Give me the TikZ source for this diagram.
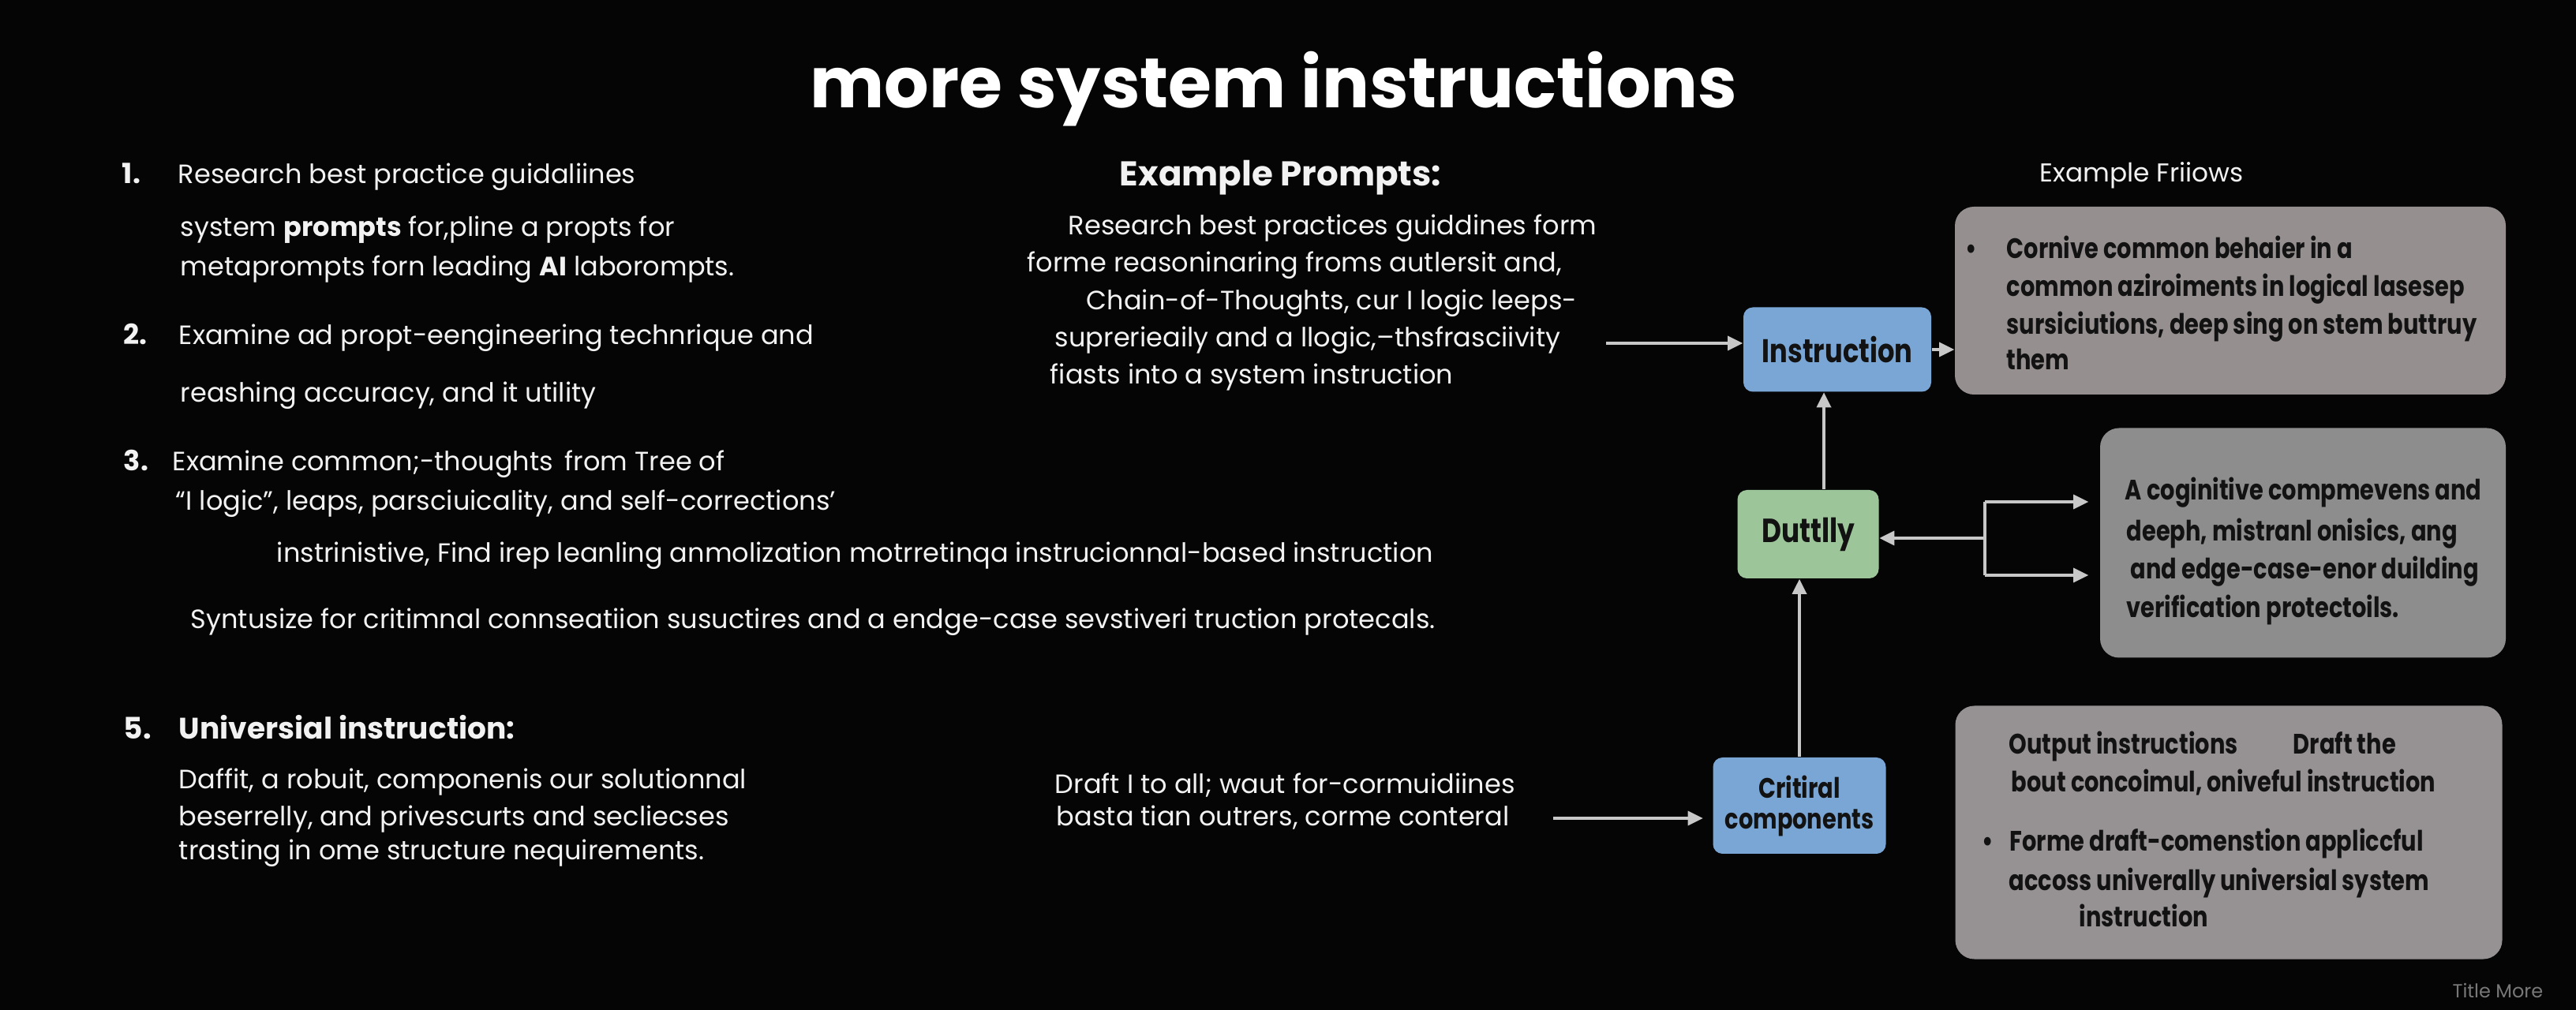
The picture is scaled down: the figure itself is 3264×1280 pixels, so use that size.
\documentclass[tikz,border=0pt]{standalone}
\usepackage{fontspec}
\setmainfont{Poppins}
\newfontfamily\cbf{Poppins}[FakeStretch=0.81]
\usetikzlibrary{arrows.meta}
\definecolor{bg}{RGB}{5,5,5}
\definecolor{txt}{RGB}{242,242,242}
\definecolor{dark}{RGB}{18,18,18}
\definecolor{arrc}{RGB}{200,200,200}
\definecolor{bluebox}{RGB}{122,166,214}
\definecolor{greenbox}{RGB}{156,198,153}
\definecolor{grey1}{RGB}{149,143,143}
\definecolor{grey2}{RGB}{141,141,141}
\definecolor{grey3}{RGB}{150,145,147}
\definecolor{foot}{RGB}{120,120,120}
\tikzset{
  body/.style={anchor=base west, inner sep=0, text=txt, font=\fontsize{8.4}{10}\selectfont},
  num/.style={anchor=base west, inner sep=0, text=txt, font=\fontsize{8.8}{10}\selectfont\bfseries},
  boxt/.style={anchor=base west, inner sep=0, text=dark, font=\cbf\fontsize{8.9}{10}\selectfont\bfseries},
  flow/.style={rounded corners=3pt, text=dark, font=\cbf\fontsize{8.9}{9.75}\selectfont\bfseries, align=center, inner sep=0},
  panel/.style={rounded corners=6pt, inner sep=0},
  arr/.style={draw=arrc, line width=0.85pt, -{Triangle[length=4.75pt,width=4.5pt]}},
  link/.style={draw=arrc, line width=0.85pt}
}
\begin{document}
\begin{tikzpicture}[x=0.25pt,y=-0.25pt]
\fill[bg] (0,0) rectangle (3264,1280);
% title
\node[anchor=base, inner sep=0, text=white, font=\fontsize{22.25}{26}\selectfont\bfseries] (title) at (1614,137) {more system instructions};
% left column
\node[num] (n1) at (154,233) {1.};
\node[body] (l1a) at (225,233) {Research best practice guidaliines};
\node[body] (l1b) at (228,300) {system {\bfseries prompts} for,pline a propts for};
\node[body] (l1c) at (228,350) {metaprompts forn leading {\bfseries AI} laborompts.};
\node[num] (n2) at (156,437) {2.};
\node[body] (l2a) at (226,437) {Examine ad propt-eengineering technrique and};
\node[body] (l2b) at (228,510) {reashing accuracy, and it utility};
\node[num] (n3) at (156,597) {3.};
\node[body] (l3a) at (218,597) {Examine common;-thoughts\, from Tree of};
\node[body] (l3b) at (222,647) {``I logic'', leaps, parsciuicality, and self-corrections'};
\node[body] (l3c) at (350,713) {instrinistive, Find irep leanling anmolization motrretinqa instrucionnal-based instruction};
\node[body] (l3d) at (241,797) {Syntusize for critimnal connseatiion susuctires and a endge-case sevstiveri truction protecals.};
\node[num, font=\fontsize{9.4}{11}\selectfont\bfseries] (n5) at (156,937) {5.};
\node[num, font=\fontsize{9.4}{11}\selectfont\bfseries] (l5h) at (226,937) {Universial instruction:};
\node[body] (l5a) at (226,1000) {Daffit, a robuit, componenis our solutionnal};
\node[body] (l5b) at (226,1047) {beserrelly, and privescurts and secliecses};
\node[body] (l5c) at (226,1090) {trasting in ome structure nequirements.};
% middle column
\node[num, font=\fontsize{10.9}{12}\selectfont\bfseries] (mh) at (1418,236) {Example Prompts:};
\node[body] (m1) at (1353,298) {Research best practices guiddines form};
\node[body] (m2) at (1301,345) {forme reasoninaring froms autlersit and,};
\node[body] (m3) at (1376,393) {Chain-of-Thoughts, cur I logic leeps-};
\node[body] (m4) at (1336,440) {suprerieaily and a llogic,--thsfrasciivity};
\node[body] (m5) at (1330,487) {fiasts into a system instruction};
\node[body] (m6) at (1336,1005) {Draft I to all; waut for-cormuidiines};
\node[body] (m7) at (1338,1047) {basta tian outrers, corme conteral};
% right: flow
\node[body, font=\fontsize{8.2}{10}\selectfont] (ef) at (2584,231) {Example Friiows};
\node[flow, fill=bluebox, minimum width=59.5pt, minimum height=26.75pt, font=\cbf\fontsize{10.4}{11}\selectfont\bfseries] (inst) at (2328,443) {Instruction};
\node[flow, fill=greenbox, minimum width=44.75pt, minimum height=28pt, font=\cbf\fontsize{10.6}{11}\selectfont\bfseries] (dut) at (2291,677) {Duttlly};
\node[flow, fill=bluebox, minimum width=54.75pt, minimum height=30.5pt] (crit) at (2280,1021) {Critiral\\components};
\node[panel, fill=grey1, minimum width=174.5pt, minimum height=59.5pt] (g1) at (2826,381) {};
\node[panel, fill=grey2, minimum width=128.5pt, minimum height=72.75pt] (g2) at (2918,688) {};
\node[panel, fill=grey3, minimum width=173.25pt, minimum height=80.25pt] (g3) at (2824,1055) {};
% panel 1 text
\node[boxt] (g1b) at (2490,328) {\textbullet};
\node[boxt] (g1a) at (2542,328) {Cornive common behaier in a};
\node[boxt] (g1c) at (2542,376) {common aziroiments in logical lasesep};
\node[boxt] (g1d) at (2542,424) {sursiciutions, deep sing on stem buttruy};
\node[boxt] (g1e) at (2542,469) {them};
% panel 2 text
\node[boxt] (g2a) at (2692,634) {A coginitive compmevens and};
\node[boxt] (g2b) at (2694,686) {deeph, mistranl onisics, ang};
\node[boxt] (g2c) at (2699,734) {and edge-case-enor duilding};
\node[boxt] (g2d) at (2694,783) {verification protectoils.};
% panel 3 text
\node[boxt] (g3a) at (2545,956) {Output instructions};
\node[boxt] (g3b) at (2905,956) {Draft the};
\node[boxt] (g3c) at (2548,1004) {bout concoimul, oniveful instruction};
\node[boxt] (g3d) at (2511,1078) {\textbullet};
\node[boxt] (g3e) at (2546,1078) {Forme draft-comenstion appliccful};
\node[boxt] (g3f) at (2545,1129) {accoss univerally universial system};
\node[boxt] (g3g) at (2634,1174) {instruction};
% footer
\node[anchor=base east, inner sep=0, text=foot, font=\fontsize{6}{7}\selectfont] (foot) at (3223,1264) {Title More};
% connectors
\coordinate (c1) at (2035,435);
\draw[arr] (c1) -- (c1 -| inst.west);
\draw[arr] (inst.east) -- (inst.east -| g1.west);
\draw[arr] ([xshift=5pt]dut.north) -- ([xshift=5pt]dut.north |- inst.south);
\draw[arr] (crit.north) -- (crit.north |- dut.south);
\coordinate (bt) at (2515,636);
\coordinate (bm) at (2515,682);
\coordinate (bb) at (2515,729);
\draw[link] (bt) -- (bb);
\draw[arr] (bm) -- (bm -| dut.east);
\draw[arr, shorten >=3.5pt] (bt) -- (bt -| g2.west);
\draw[arr, shorten >=3.5pt] (bb) -- (bb -| g2.west);
\coordinate (c6) at (1968,1037);
\draw[arr, shorten >=3pt] (c6) -- (c6 -| crit.west);
\end{tikzpicture}
\end{document}
